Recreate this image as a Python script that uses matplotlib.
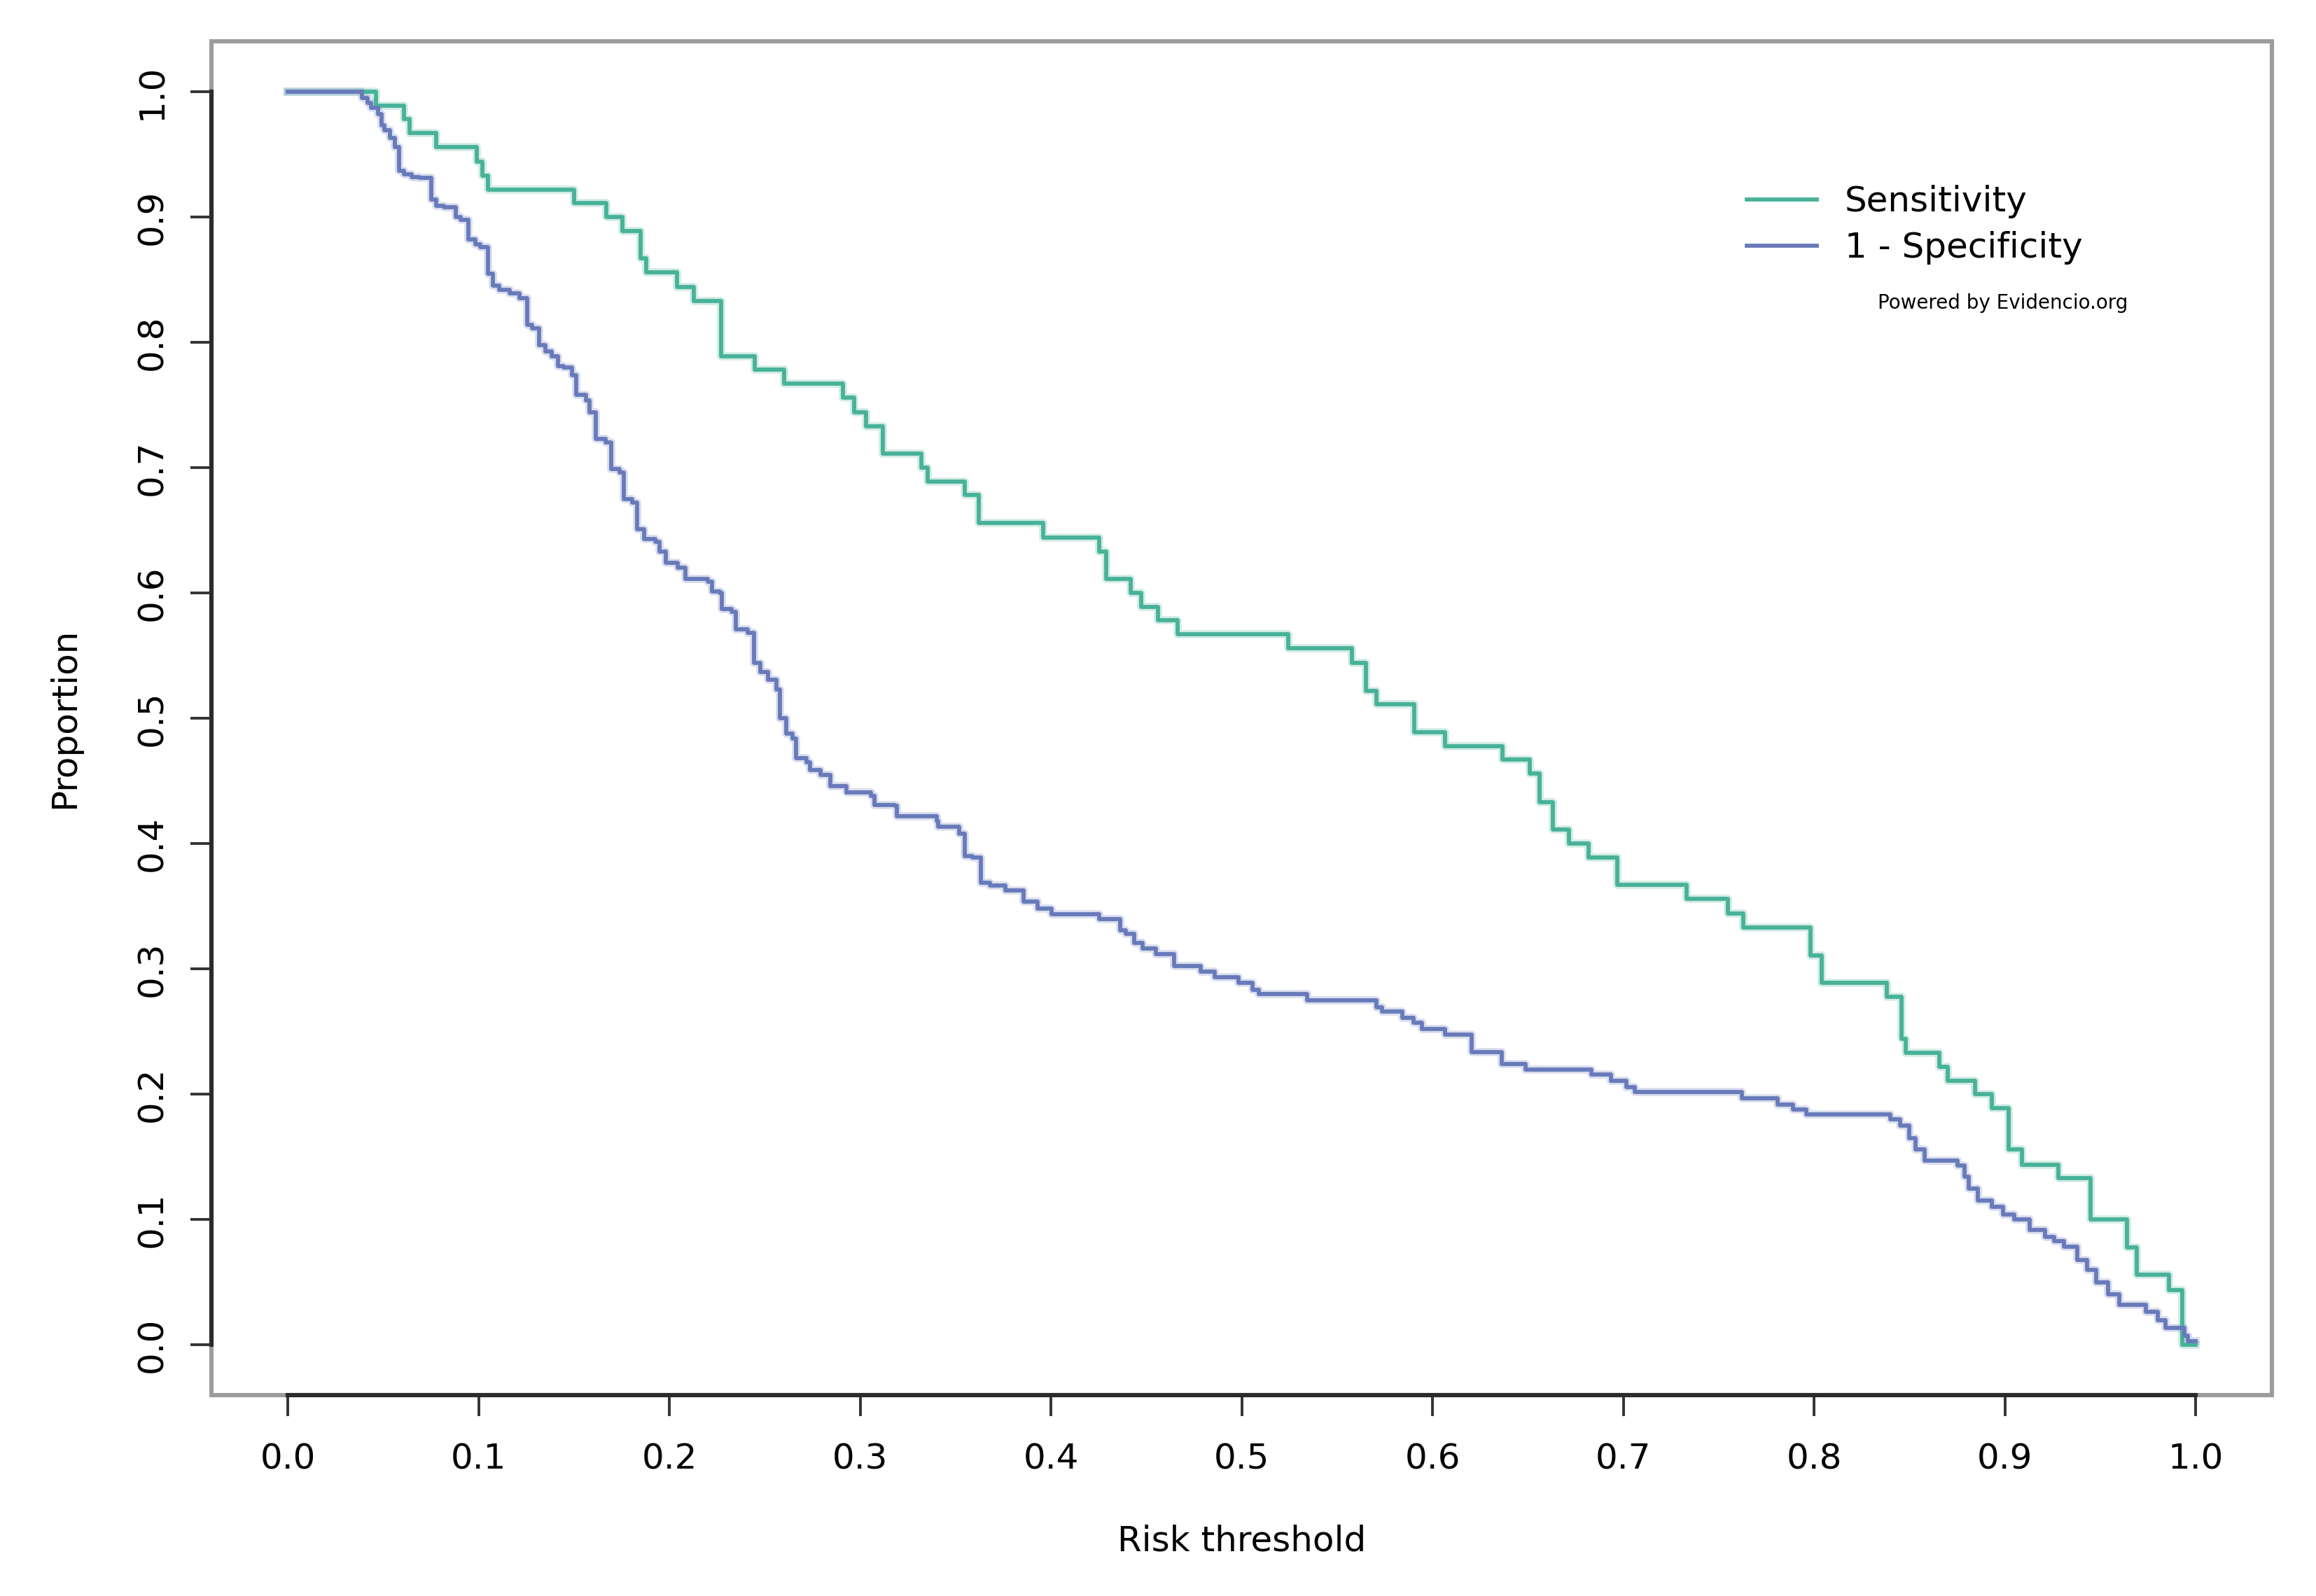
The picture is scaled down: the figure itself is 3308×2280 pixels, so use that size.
import matplotlib.pyplot as plt

# risk thresholds where each step starts, and the step values
thr_sens = [0.0, 0.0464, 0.061, 0.0637, 0.0778, 0.0989, 0.102, 0.105, 0.150, 0.167,
            0.1755, 0.185, 0.188, 0.204, 0.213, 0.227, 0.2446, 0.260, 0.291, 0.297,
            0.303, 0.312, 0.332, 0.3353, 0.355, 0.3622, 0.396, 0.4254, 0.429, 0.4418,
            0.4472, 0.4563, 0.4664, 0.5244, 0.5577, 0.5652, 0.5706, 0.5905, 0.6064, 0.6368,
            0.6509, 0.656, 0.663, 0.6717, 0.6818, 0.697, 0.733, 0.755, 0.763, 0.798,
            0.804, 0.838, 0.846, 0.848, 0.8657, 0.870, 0.8844, 0.893, 0.902, 0.909,
            0.928, 0.945, 0.964, 0.969, 0.986, 0.993, 1.0]
sensitivity = [1.0, 0.989, 0.978, 0.967, 0.956, 0.944, 0.933, 0.922, 0.911, 0.900,
               0.889, 0.867, 0.856, 0.844, 0.833, 0.789, 0.778, 0.767, 0.756, 0.744,
               0.733, 0.711, 0.700, 0.689, 0.678, 0.656, 0.644, 0.633, 0.611, 0.600,
               0.589, 0.578, 0.567, 0.556, 0.544, 0.522, 0.511, 0.489, 0.478, 0.467,
               0.456, 0.433, 0.411, 0.400, 0.389, 0.367, 0.356, 0.344, 0.333, 0.311,
               0.289, 0.278, 0.244, 0.233, 0.222, 0.211, 0.200, 0.189, 0.156, 0.144,
               0.133, 0.100, 0.078, 0.056, 0.044, 0.0, 0.0]

thr_spec = [0.0, 0.039, 0.0418, 0.0438, 0.0474, 0.049, 0.0508, 0.0534, 0.056, 0.0585,
            0.061, 0.0649, 0.0688, 0.0752, 0.0778, 0.0817, 0.088, 0.0906, 0.0945, 0.0984,
            0.101, 0.1048, 0.1074, 0.1107, 0.1164, 0.1215, 0.1254, 0.128, 0.1318, 0.1349,
            0.1383, 0.1416, 0.1446, 0.1488, 0.151, 0.1562, 0.1583, 0.1613, 0.1666, 0.1697,
            0.1739, 0.176, 0.1805, 0.1832, 0.1867, 0.1928, 0.195, 0.198, 0.2043, 0.2085,
            0.220, 0.2222, 0.2264, 0.2275, 0.2328, 0.2349, 0.2412, 0.2444, 0.2476, 0.2518,
            0.256, 0.2581, 0.2613, 0.2644, 0.2665, 0.2718, 0.2739, 0.2792, 0.2844, 0.2929,
            0.3055, 0.3076, 0.3181, 0.3192, 0.3401, 0.3410, 0.3518, 0.355, 0.3588, 0.3634,
            0.368, 0.3763, 0.3857, 0.393, 0.4005, 0.4253, 0.4363, 0.4394, 0.4437, 0.4479,
            0.4552, 0.4647, 0.4784, 0.4858, 0.4985, 0.5058, 0.509, 0.5342, 0.5707, 0.5737,
            0.5842, 0.5901, 0.5944, 0.6066, 0.6206, 0.6364, 0.6486, 0.6834, 0.6937, 0.7017,
            0.7059, 0.762, 0.781, 0.789, 0.796, 0.840, 0.845, 0.850, 0.853, 0.858,
            0.8753, 0.879, 0.881, 0.886, 0.893, 0.899, 0.905, 0.913, 0.921, 0.926,
            0.931, 0.938, 0.943, 0.948, 0.954, 0.960, 0.974, 0.980, 0.984, 0.994,
            0.996, 1.0]
one_minus_spec = [1.0, 0.995, 0.991, 0.987, 0.982, 0.973, 0.969, 0.963, 0.956, 0.937,
                  0.934, 0.932, 0.931, 0.914, 0.909, 0.908, 0.900, 0.898, 0.882, 0.878,
                  0.876, 0.855, 0.845, 0.842, 0.839, 0.835, 0.814, 0.811, 0.798, 0.793,
                  0.789, 0.781, 0.780, 0.774, 0.758, 0.7535, 0.744, 0.723, 0.720, 0.699,
                  0.696, 0.675, 0.672, 0.651, 0.643, 0.641, 0.633, 0.624, 0.620, 0.611,
                  0.609, 0.601, 0.600, 0.587, 0.585, 0.571, 0.568, 0.544, 0.537, 0.531,
                  0.523, 0.500, 0.488, 0.484, 0.468, 0.465, 0.459, 0.455, 0.446, 0.441,
                  0.438, 0.431, 0.430, 0.422, 0.418, 0.4135, 0.408, 0.390, 0.389, 0.369,
                  0.3665, 0.3627, 0.354, 0.3484, 0.3439, 0.3395, 0.331, 0.3283, 0.3209, 0.3162,
                  0.3116, 0.3026, 0.2976, 0.2935, 0.2888, 0.2836, 0.2799, 0.2752, 0.2696, 0.2659,
                  0.2609, 0.2572, 0.252, 0.2477, 0.2337, 0.2244, 0.2198, 0.2157, 0.211, 0.2058,
                  0.2017, 0.197, 0.192, 0.1877, 0.1842, 0.180, 0.175, 0.165, 0.156, 0.147,
                  0.143, 0.134, 0.125, 0.115, 0.110, 0.1038, 0.100, 0.092, 0.0864, 0.0828,
                  0.0783, 0.0676, 0.060, 0.050, 0.0405, 0.032, 0.0266, 0.020, 0.0138, 0.0077,
                  0.0032, 0.0032]

ticks = [0.0, 0.1, 0.2, 0.3, 0.4, 0.5, 0.6, 0.7, 0.8, 0.9, 1.0]
tick_labels = ["0.0", "0.1", "0.2", "0.3", "0.4", "0.5", "0.6", "0.7", "0.8", "0.9", "1.0"]

green = "#48b298"
blue = "#687aba"

fig = plt.figure(figsize=(16.54, 11.4), dpi=200)
ax = fig.add_axes([0.0913, 0.1259, 0.8897, 0.8481])

# soft halo under each line, like the resampled original
ax.plot(thr_sens, sensitivity, drawstyle="steps-post", color=green, lw=4.2, alpha=0.25)
ax.plot(thr_spec, one_minus_spec, drawstyle="steps-post", color=blue, lw=4.2, alpha=0.25)
ax.plot(thr_sens, sensitivity, drawstyle="steps-post", color=green, lw=2.1, label="Sensitivity")
ax.plot(thr_spec, one_minus_spec, drawstyle="steps-post", color=blue, lw=2.1, label="1 - Specificity")

ax.set_xlim(-0.04, 1.04)
ax.set_ylim(-0.04, 1.04)
ax.set_xticks(ticks)
ax.set_xticklabels(tick_labels)
ax.set_yticks(ticks)
ax.set_yticklabels(tick_labels)

# R style: grey box, dark axis lines only between first and last tick
ax.patch.set_edgecolor("#9c9c9c")
ax.patch.set_linewidth(2.2)
ax.spines["top"].set_visible(False)
ax.spines["right"].set_visible(False)
for side in ["left", "bottom"]:
    ax.spines[side].set_color("#2b2b2b")
    ax.spines[side].set_linewidth(2.2)
    ax.spines[side].set_bounds(0, 1)

ax.tick_params(length=10.8, width=1.4, color="#333333", labelsize=18)
ax.tick_params(axis="x", pad=13.5)
ax.tick_params(axis="y", pad=11)
for lab in ax.get_yticklabels():
    lab.set_rotation(90)
    lab.set_va("center")

ax.set_xlabel("Risk threshold", fontsize=18, labelpad=25)
ax.set_ylabel("Proportion", fontsize=18, labelpad=28)

ax.legend(loc="upper left", bbox_to_anchor=(0.745, 0.894), frameon=False, fontsize=18,
          handlelength=2.0, handletextpad=0.8, labelspacing=0.36, borderpad=0, borderaxespad=0)
ax.text(0.8695, 0.8066, "Powered by Evidencio.org", transform=ax.transAxes,
        fontsize=10, ha="center", va="center")

fig.savefig("out.png", dpi=200)
